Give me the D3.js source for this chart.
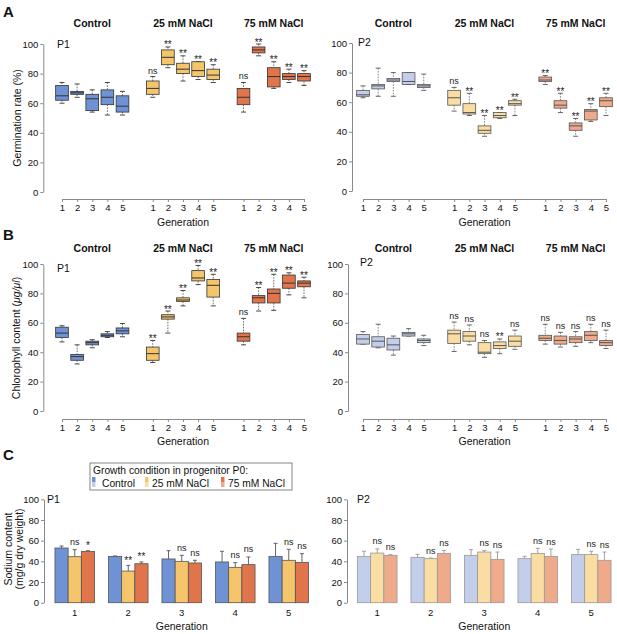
<!DOCTYPE html>
<html>
<head>
<meta charset="utf-8">
<script src="https://cdn.jsdelivr.net/npm/d3@7"></script>
<style>
  body { margin: 0; background: #fff; }
  svg { font-family: "Liberation Sans", Arial, Helvetica, sans-serif; }
</style>
</head>
<body>
<div id="figura"></div>
<script>
const generations = [1, 2, 3, 4, 5];
const conditions = ["Control", "25 mM NaCl", "75 mM NaCl"];
const yTicks = [0, 20, 40, 60, 80, 100];

// cajas: [min, q1, mediana, q3, max] por generacion, una fila por condicion
const germP1 = [
  [[60, 62, 65, 72, 74], [64, 66, 67, 68, 73], [54, 55, 63, 66, 69], [52, 59, 64, 69, 74], [52, 54, 58, 65, 68]],
  [[64, 66, 70, 75, 78], [84, 86, 91, 96, 98], [75, 80, 83, 87, 92], [76, 78, 82, 88, 88], [74, 76, 79, 83, 86]],
  [[54, 59, 64, 70, 74], [92, 94, 96, 98, 100], [70, 71, 78, 84, 88], [74, 76, 78, 80, 83], [72, 75, 78, 80, 82]]
];
const germP1Sig = [["", "", "", "", ""], ["ns", "**", "**", "**", "**"], ["ns", "**", "**", "**", "**"]];

const germP2 = [
  [[63, 64, 65, 68, 71], [64, 69, 71, 72, 83], [64, 74, 75, 76, 80], [72, 72, 74, 80, 80], [68, 70, 71, 72, 79]],
  [[54, 58, 63, 68, 70], [51, 52, 53, 59, 66], [37, 39, 41, 44, 51], [49, 49.5, 51, 53, 53], [51, 58, 59, 61, 62]],
  [[72, 74, 75, 77, 78], [53, 56, 58, 61, 66], [37, 41, 44, 46, 49], [47, 48, 54, 55, 59], [51, 57, 61, 63, 66]]
];
const germP2Sig = [["", "", "", "", ""], ["ns", "**", "**", "**", "**"], ["**", "**", "**", "**", "**"]];

const chloroP1 = [
  [[47, 50, 53, 57, 58], [32, 34.5, 37, 38.5, 45], [43, 45, 46.5, 47.5, 48.5], [50, 50.5, 51.5, 52.5, 54], [50.5, 52.5, 54.5, 56.5, 59.5]],
  [[33, 34.5, 39, 43.5, 48], [53, 62.5, 64, 65.5, 68], [71.5, 74.5, 75.5, 77, 82], [86, 88.5, 90.5, 95.5, 99], [71.5, 77.5, 85.5, 89.5, 93]],
  [[45, 47.5, 50.5, 53, 63], [68, 73.5, 77, 78.5, 84], [68.5, 73.5, 80, 83, 93], [79, 83.5, 87, 92.5, 94], [77, 84.5, 87, 88.5, 91]]
];
const chloroP1Sig = [["", "", "", "", ""], ["**", "**", "**", "**", "**"], ["ns", "**", "**", "**", "**"]];

const chloroP2 = [
  [[45.5, 45.5, 49, 52, 54], [43, 43.5, 47.5, 50.5, 59], [38, 41.5, 45, 49.5, 51], [51, 51, 52.5, 53.5, 56], [44.5, 46.5, 48, 49, 51.5]],
  [[40.5, 46, 52.5, 55, 60.5], [45, 47.5, 51, 54, 58.5], [36.5, 39, 40, 46.5, 48], [39, 42.5, 44.5, 47, 49], [42, 44, 47.5, 51, 55]],
  [[45.5, 48, 49.5, 51.5, 59], [43.5, 45.5, 48, 51, 53.5], [44, 46.5, 49, 50.5, 54], [46.5, 48, 51.5, 54, 59], [42.5, 44.5, 46.5, 48, 55]]
];
const chloroP2Sig = [["", "", "", "", ""], ["ns", "ns", "ns", "**", "ns"], ["ns", "ns", "ns", "ns", "ns"]];

// sodio: media y error (solo hacia arriba)
const sodiumP1Mean = [[52.9, 44.8, 42.3, 39.4, 44.8], [44.5, 30.6, 40, 34.2, 41], [49.5, 37.7, 38.4, 36.8, 39]];
const sodiumP1Err = [[1.9, 0.4, 8, 10.3, 12.6], [6.8, 5.5, 5.8, 4.5, 10.6], [0.8, 1.7, 2.6, 7.4, 8.4]];
const sodiumP1Sig = [["", "", "", "", ""], ["ns", "**", "ns", "ns", "ns"], ["*", "**", "ns", "ns", "ns"]];

const sodiumP2Mean = [[44.8, 43.9, 45.8, 42.6, 46.5], [48, 42.6, 49, 47.7, 46.5], [45.8, 47.7, 41.9, 44.8, 41]];
const sodiumP2Err = [[4.9, 2.9, 5.5, 2.2, 5.1], [4, 0.6, 1.3, 4.9, 3.2], [0.7, 2.9, 7.1, 7.1, 8]];
const sodiumP2Sig = [["", "", "", "", ""], ["ns", "ns", "ns", "ns", "ns"], ["ns", "ns", "ns", "ns", "ns"]];

const coloresP1 = ["#6f92d4", "#f5c56b", "#e0744a"];
const coloresP2 = ["#c3cfea", "#f9dda3", "#eeaa8a"];

const svg = d3.select("#figura").append("svg")
    .attr("width", 617)
    .attr("height", 634);

function ejeY(g, y, x){
    const eje = g.append("g")
        .attr("transform", `translate(${x},0)`)
        .call(d3.axisLeft(y).tickValues(yTicks).tickSize(3).tickSizeOuter(0).tickPadding(2));
    eje.attr("font-family", null).attr("font-size", 9.5);
    eje.select(".domain").attr("stroke", "#8a8a8a");
    eje.selectAll(".tick line").attr("stroke", "#8a8a8a");
    eje.selectAll("text").attr("fill", "#111");
}

function texto(g, x, y, t, size, opts = {}){
    return g.append("text")
        .attr("x", x).attr("y", y)
        .attr("font-size", size)
        .attr("text-anchor", opts.anchor || "start")
        .attr("font-weight", opts.bold ? "bold" : null)
        .attr("fill", "#111")
        .text(t);
}

function tituloY(g, x, yc, lineas){
    const t = g.append("text")
        .attr("transform", `translate(${x},${yc}) rotate(-90)`)
        .attr("text-anchor", "middle")
        .attr("font-size", 10.5)
        .attr("fill", "#111");
    lineas(t);
}

function panelCajas(cfg){
    const g = svg.append("g");
    const x = d3.scaleLinear().domain([0, 16]).range(cfg.rangoX);
    const slot = (ci, i) => ci * 6 + i;
    const ancho = (x(1) - x(0)) * 0.84;

    ejeY(g, cfg.y, cfg.ejeX);

    const slots = [];
    conditions.forEach((c, ci) => generations.forEach((gen, i) => slots.push(slot(ci, i))));
    const ejeX = g.append("g")
        .attr("transform", `translate(0,${cfg.baseX})`)
        .call(d3.axisBottom(x).tickValues(slots).tickFormat(s => generations[s % 6])
            .tickSize(3).tickSizeOuter(0).tickPadding(2));
    ejeX.attr("font-family", null).attr("font-size", 9.5);
    ejeX.select(".domain").attr("stroke", "#8a8a8a");
    ejeX.selectAll(".tick line").attr("stroke", "#8a8a8a");
    ejeX.selectAll("text").attr("fill", "#111");

    conditions.forEach((c, ci) => {
        texto(g, x(slot(ci, 2)), cfg.yCabecera, c, 10.5, {anchor: "middle", bold: true});
    });

    const cajas = [];
    cfg.datos.forEach((serie, ci) => serie.forEach((b, i) => {
        cajas.push({ci, i, b, sig: cfg.sig[ci][i], cx: x(slot(ci, i))});
    }));

    const y = cfg.y;
    const trazo = cfg.trazo;

    g.selectAll(".bigote").data(cajas).join("path")
        .attr("d", d => `M${d.cx},${y(d.b[4])}V${y(d.b[3])}M${d.cx},${y(d.b[1])}V${y(d.b[0])}`)
        .attr("stroke", trazo).attr("stroke-width", 0.7)
        .attr("stroke-dasharray", "1.6,1.2").attr("fill", "none");

    g.selectAll(".tope").data(cajas).join("path")
        .attr("d", d => `M${d.cx - 2.5},${y(d.b[4])}H${d.cx + 2.5}M${d.cx - 2.5},${y(d.b[0])}H${d.cx + 2.5}`)
        .attr("stroke", trazo).attr("stroke-width", 0.9).attr("fill", "none");

    g.selectAll(".caja").data(cajas).join("rect")
        .attr("x", d => d.cx - ancho / 2)
        .attr("width", ancho)
        .attr("y", d => y(d.b[3]))
        .attr("height", d => Math.max(0.8, y(d.b[1]) - y(d.b[3])))
        .attr("fill", d => cfg.colores[d.ci])
        .attr("stroke", trazo).attr("stroke-width", 0.8);

    g.selectAll(".mediana").data(cajas).join("line")
        .attr("x1", d => d.cx - ancho / 2).attr("x2", d => d.cx + ancho / 2)
        .attr("y1", d => y(d.b[2])).attr("y2", d => y(d.b[2]))
        .attr("stroke", trazo).attr("stroke-width", 1);

    g.selectAll(".sig").data(cajas.filter(d => d.sig)).join("text")
        .attr("x", d => d.cx)
        .attr("y", d => d.sig === "ns" ? y(d.b[4]) - 3 : y(d.b[4]) + 1.5)
        .attr("text-anchor", "middle")
        .attr("font-size", d => d.sig === "ns" ? 9 : 10)
        .attr("fill", "#222")
        .text(d => d.sig);

    texto(g, cfg.etiqueta[0], cfg.etiqueta[1], cfg.etiqueta[2], 10.5);
    texto(g, x(8), cfg.yGeneracion, "Generation", 10.5, {anchor: "middle"});
}

function panelBarras(cfg){
    const g = svg.append("g");
    const x0 = d3.scaleBand().domain(generations).range(cfg.rangoX).paddingInner(0.26).paddingOuter(0.13);
    const x1 = d3.scaleBand().domain(d3.range(conditions.length)).range([0, x0.bandwidth()]);
    const y = cfg.y;

    ejeY(g, y, cfg.ejeX);

    const barras = [];
    cfg.medias.forEach((serie, ci) => serie.forEach((m, i) => {
        barras.push({ci, gen: generations[i], m, e: cfg.errores[ci][i], sig: cfg.sig[ci][i]});
    }));

    const cx = d => x0(d.gen) + x1(d.ci) + x1.bandwidth() / 2;

    g.selectAll(".error").data(barras).join("path")
        .attr("d", d => `M${cx(d)},${y(d.m)}V${y(d.m + d.e)}M${cx(d) - 2},${y(d.m + d.e)}H${cx(d) + 2}`)
        .attr("stroke", cfg.trazo).attr("stroke-width", 0.9).attr("fill", "none");

    g.selectAll(".barra").data(barras).join("rect")
        .attr("x", d => x0(d.gen) + x1(d.ci))
        .attr("width", x1.bandwidth())
        .attr("y", d => y(d.m))
        .attr("height", d => y(0) - y(d.m))
        .attr("fill", d => cfg.colores[d.ci])
        .attr("stroke", cfg.trazo).attr("stroke-width", 0.8);

    g.selectAll(".sig").data(barras.filter(d => d.sig)).join("text")
        .attr("x", cx)
        .attr("y", d => d.sig === "ns" ? y(d.m + d.e) - 4.5 : y(d.m + d.e) - 1.5)
        .attr("text-anchor", "middle")
        .attr("font-size", d => d.sig === "ns" ? 9 : 10)
        .attr("fill", "#222")
        .text(d => d.sig);

    const ejeX = g.append("g")
        .attr("transform", `translate(0,${y(0)})`)
        .call(d3.axisBottom(x0).tickSize(0).tickPadding(7));
    ejeX.attr("font-family", null).attr("font-size", 9.5);
    ejeX.select(".domain").remove();
    ejeX.selectAll("text").attr("fill", "#111");

    texto(g, cfg.etiqueta[0], cfg.etiqueta[1], cfg.etiqueta[2], 10.5);
    const medio = (cfg.rangoX[0] + cfg.rangoX[1]) / 2;
    texto(g, medio, cfg.yGeneracion, "Generation", 10.5, {anchor: "middle"});
}

// ---------- A: germinacion ----------
const yA = d3.scaleLinear().domain([0, 100]).range([192, 44]);
const yA2 = d3.scaleLinear().domain([0, 100]).range([191, 43]);
texto(svg, 3, 17, "A", 15, {bold: true});
tituloY(svg, 21, 118, t => t.text("Germination rate (%)"));

panelCajas({datos: germP1, sig: germP1Sig, y: yA, rangoX: [62, 304], ejeX: 43.3, baseX: 199,
    colores: coloresP1, trazo: "#333", yCabecera: 26.5, etiqueta: [57, 47.5, "P1"], yGeneracion: 226});
panelCajas({datos: germP2, sig: germP2Sig, y: yA2, rangoX: [363, 606], ejeX: 352, baseX: 199,
    colores: coloresP2, trazo: "#555", yCabecera: 26.5, etiqueta: [358, 46, "P2"], yGeneracion: 226});

// ---------- B: clorofila ----------
const yB = d3.scaleLinear().domain([0, 100]).range([411, 264]);
texto(svg, 3, 240, "B", 15, {bold: true});
tituloY(svg, 20, 338, t => {
    t.append("tspan").text("Chlorophyll content (");
    t.append("tspan").attr("font-style", "italic").text("\u03bcg/\u03bcl");
    t.append("tspan").text(")");
});

panelCajas({datos: chloroP1, sig: chloroP1Sig, y: yB, rangoX: [62, 304], ejeX: 43.3, baseX: 419,
    colores: coloresP1, trazo: "#333", yCabecera: 252, etiqueta: [57, 272, "P1"], yGeneracion: 445});
panelCajas({datos: chloroP2, sig: chloroP2Sig, y: yB, rangoX: [363, 606], ejeX: 348, baseX: 419,
    colores: coloresP2, trazo: "#555", yCabecera: 252, etiqueta: [360, 266, "P2"], yGeneracion: 445});

// ---------- C: sodio ----------
const yC = d3.scaleLinear().domain([0, 100]).range([602.7, 499.3]);
texto(svg, 3, 460, "C", 15, {bold: true});
tituloY(svg, 0, 549, t => {
    t.append("tspan").attr("x", 0).attr("y", 11.5).text("Sodium content");
    t.append("tspan").attr("x", 0).attr("y", 22.5).text("(mg/g dry weight)");
});

panelBarras({medias: sodiumP1Mean, errores: sodiumP1Err, sig: sodiumP1Sig, y: yC, rangoX: [48, 315.5],
    ejeX: 44, colores: coloresP1, trazo: "#555", etiqueta: [47, 503, "P1"], yGeneracion: 630});
panelBarras({medias: sodiumP2Mean, errores: sodiumP2Err, sig: sodiumP2Sig, y: yC, rangoX: [350.5, 618],
    ejeX: 347, colores: coloresP2, trazo: "#999", etiqueta: [357, 503, "P2"], yGeneracion: 630});

// leyenda
const leyenda = svg.append("g");
leyenda.append("rect")
    .attr("x", 90).attr("y", 463).attr("width", 202).attr("height", 27)
    .attr("fill", "#fff").attr("stroke", "#666").attr("stroke-width", 0.8);
texto(leyenda, 93, 473.5, "Growth condition in progenitor P0:", 10.25);
const posLeyenda = [[92, 102], [145, 152], [221, 228]];
conditions.forEach((c, ci) => {
    const [xc, xt] = posLeyenda[ci];
    leyenda.append("rect").attr("x", xc).attr("y", 477).attr("width", 3.5).attr("height", 5)
        .attr("fill", coloresP1[ci]);
    leyenda.append("rect").attr("x", xc).attr("y", 482).attr("width", 3.5).attr("height", 5)
        .attr("fill", coloresP2[ci]);
    texto(leyenda, xt, 486.5, c, 10.25);
});
</script>
</body>
</html>
